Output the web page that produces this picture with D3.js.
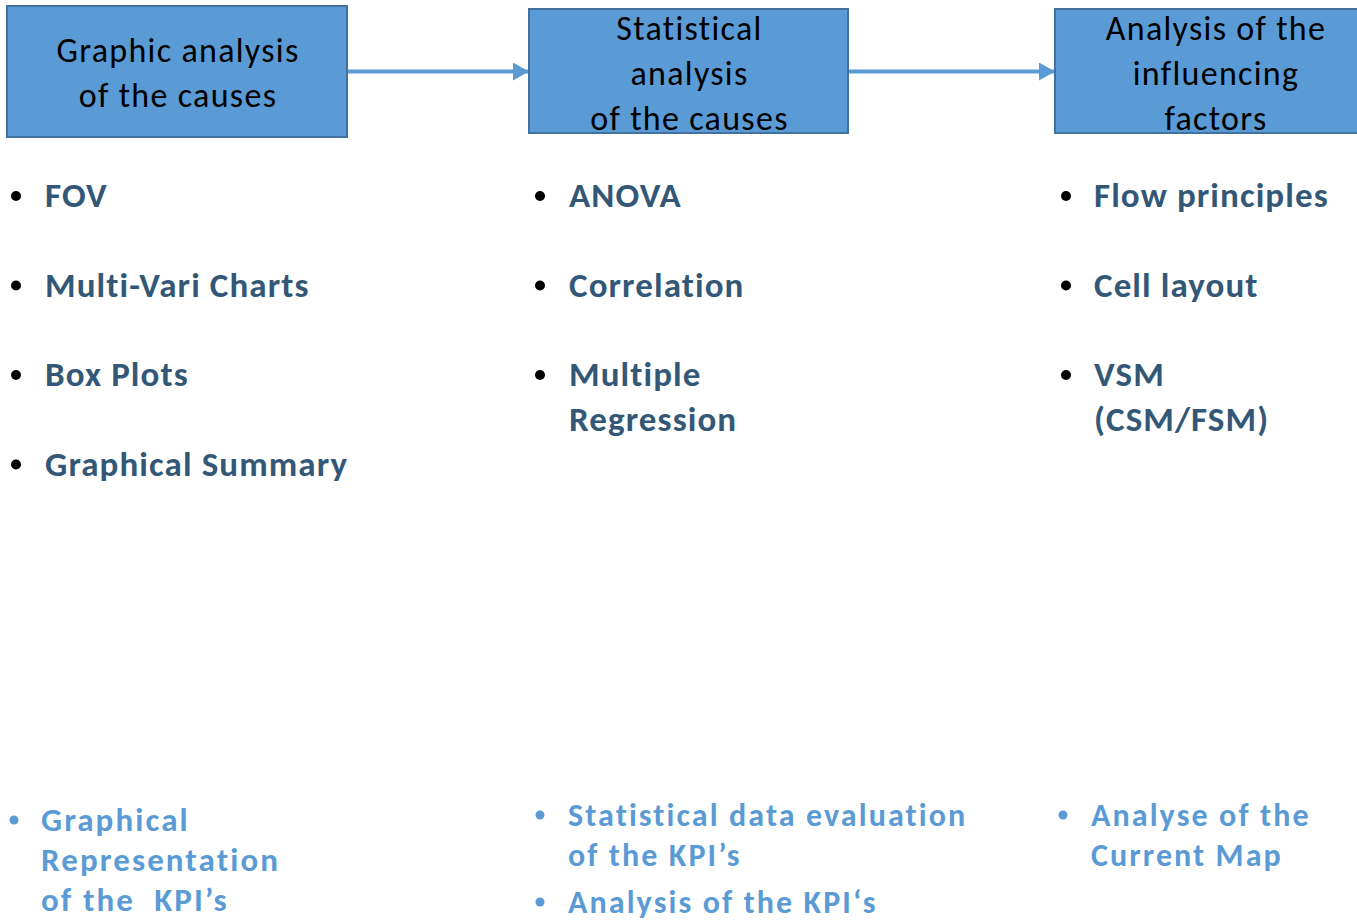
<!DOCTYPE html>
<html>
<head>
<meta charset="utf-8">
<script src="https://cdn.jsdelivr.net/npm/d3@7"></script>
<style>
  html, body { margin: 0; padding: 0; background: #fff; }
  svg { display: block; font-family: Carlito, Calibri, Lato, sans-serif; }
  text { white-space: pre; }
</style>
</head>
<body>
<div id="chart"></div>
<script>
// Step boxes, left to right
const steps = ["step1", "step2", "step3"];
const stepLabels = [
    ["Graphic analysis", "of the causes"],
    ["Statistical", "analysis", "of the causes"],
    ["Analysis of the", "influencing", "factors"]
];

// Tools under each step (each item may wrap on several lines)
const toolItems = [
    [["FOV"], ["Multi-Vari Charts"], ["Box Plots"], ["Graphical Summary"]],
    [["ANOVA"], ["Correlation"], ["Multiple", "Regression"]],
    [["Flow principles"], ["Cell layout"], ["VSM", "(CSM/FSM)"]]
];

// Outputs at the bottom of each column
const outputItems = [
    [["Graphical", "Representation", "of the  KPI\u2019s"]],
    [["Statistical data evaluation", "of the KPI\u2019s"], ["Analysis of the KPI\u2018s"]],
    [["Analyse of the", "Current Map"]]
];

const width = 1357;
const height = 921;

const svg = d3.select("#chart")
    .append("svg")
    .attr("width", width)
    .attr("height", height);

// column positions
const xBox = d3.scaleOrdinal().domain(steps).range([7, 529, 1055]);
const boxW = d3.scaleOrdinal().domain(steps).range([340, 319, 320]);
const boxTop = d3.scaleOrdinal().domain(steps).range([6, 9, 9]);
const boxH = d3.scaleOrdinal().domain(steps).range([131, 124, 124]);
const boxLine0 = d3.scaleOrdinal().domain(steps).range([62, 40, 40]);

// text start inside each column
const xBullet = d3.scaleOrdinal().domain(steps).range([16, 540, 1066]);
const xText = d3.scaleOrdinal().domain(steps).range([45, 569, 1094]);

// rows of the tool list
const yRow = d3.scaleLinear().domain([0, 1]).range([207, 296.5]);

const boxFill = "#5B9BD5";
const boxStroke = "#41719C";
const darkText = "#335877";

// arrows between boxes
const defs = svg.append("defs");
defs.append("marker")
    .attr("id", "head")
    .attr("viewBox", "0 0 16 18")
    .attr("refX", 16)
    .attr("refY", 9)
    .attr("markerWidth", 16)
    .attr("markerHeight", 18)
    .attr("markerUnits", "userSpaceOnUse")
    .attr("orient", "auto")
    .append("path")
    .attr("d", "M0,0 L16,9 L0,18 Z")
    .attr("fill", boxFill);

const links = d3.pairs(steps);
svg.append("g")
    .selectAll("line")
    .data(links)
    .enter()
    .append("line")
    .attr("x1", d => xBox(d[0]) + boxW(d[0]))
    .attr("x2", d => xBox(d[1]))
    .attr("y1", 71.5)
    .attr("y2", 71.5)
    .attr("stroke", boxFill)
    .attr("stroke-width", 4)
    .attr("marker-end", "url(#head)");

// boxes
const boxes = svg.append("g")
    .selectAll("g")
    .data(steps)
    .enter()
    .append("g");

boxes.append("rect")
    .attr("x", d => xBox(d))
    .attr("y", d => boxTop(d))
    .attr("width", d => boxW(d))
    .attr("height", d => boxH(d))
    .attr("fill", boxFill)
    .attr("stroke", boxStroke)
    .attr("stroke-width", 2);

boxes.append("text")
    .attr("text-anchor", "middle")
    .attr("font-size", 34)
    .attr("letter-spacing", 1.3)
    .attr("fill", "#000")
    .selectAll("tspan")
    .data((d, i) => stepLabels[i].map(t => ({ step: d, t: t })))
    .enter()
    .append("tspan")
    .attr("x", d => xBox(d.step) + (d.step === "step3" ? 160 : boxW(d.step) / 2) + 1)
    .attr("y", (d, i) => boxLine0(d.step) + i * 45)
    .text(d => d.t);

// tool lists
steps.forEach((s, ci) => {
    const g = svg.append("g");
    toolItems[ci].forEach((lines, ri) => {
        const y0 = yRow(ri);
        g.append("circle")
            .attr("cx", xBullet(s))
            .attr("cy", y0 - 11)
            .attr("r", 5)
            .attr("fill", "#000");
        g.append("text")
            .attr("font-size", 35)
            .attr("font-weight", "bold")
            .attr("letter-spacing", 1.1)
            .attr("fill", darkText)
            .selectAll("tspan")
            .data(lines)
            .enter()
            .append("tspan")
            .attr("x", xText(s))
            .attr("y", (d, i) => y0 + i * 45)
            .text(d => d);
    });
});

// outputs at the bottom
const outFirst = d3.scaleOrdinal().domain(steps).range([[831], [826, 913], [826]]);
const outSize = d3.scaleOrdinal().domain(steps).range([33, 32, 32]);
const outBullet = d3.scaleOrdinal().domain(steps).range([14, 540, 1063]);
const outText = d3.scaleOrdinal().domain(steps).range([41, 568, 1091]);

steps.forEach((s, ci) => {
    const g = svg.append("g");
    outputItems[ci].forEach((lines, ri) => {
        const y0 = outFirst(s)[ri];
        g.append("circle")
            .attr("cx", outBullet(s))
            .attr("cy", y0 - 11)
            .attr("r", 4.5)
            .attr("fill", boxFill);
        g.append("text")
            .attr("font-size", outSize(s))
            .attr("font-weight", "bold")
            .attr("letter-spacing", 2.1)
            .attr("fill", boxFill)
            .selectAll("tspan")
            .data(lines)
            .enter()
            .append("tspan")
            .attr("x", outText(s))
            .attr("y", (d, i) => y0 + i * 40)
            .text(d => d);
    });
});
</script>
</body>
</html>
